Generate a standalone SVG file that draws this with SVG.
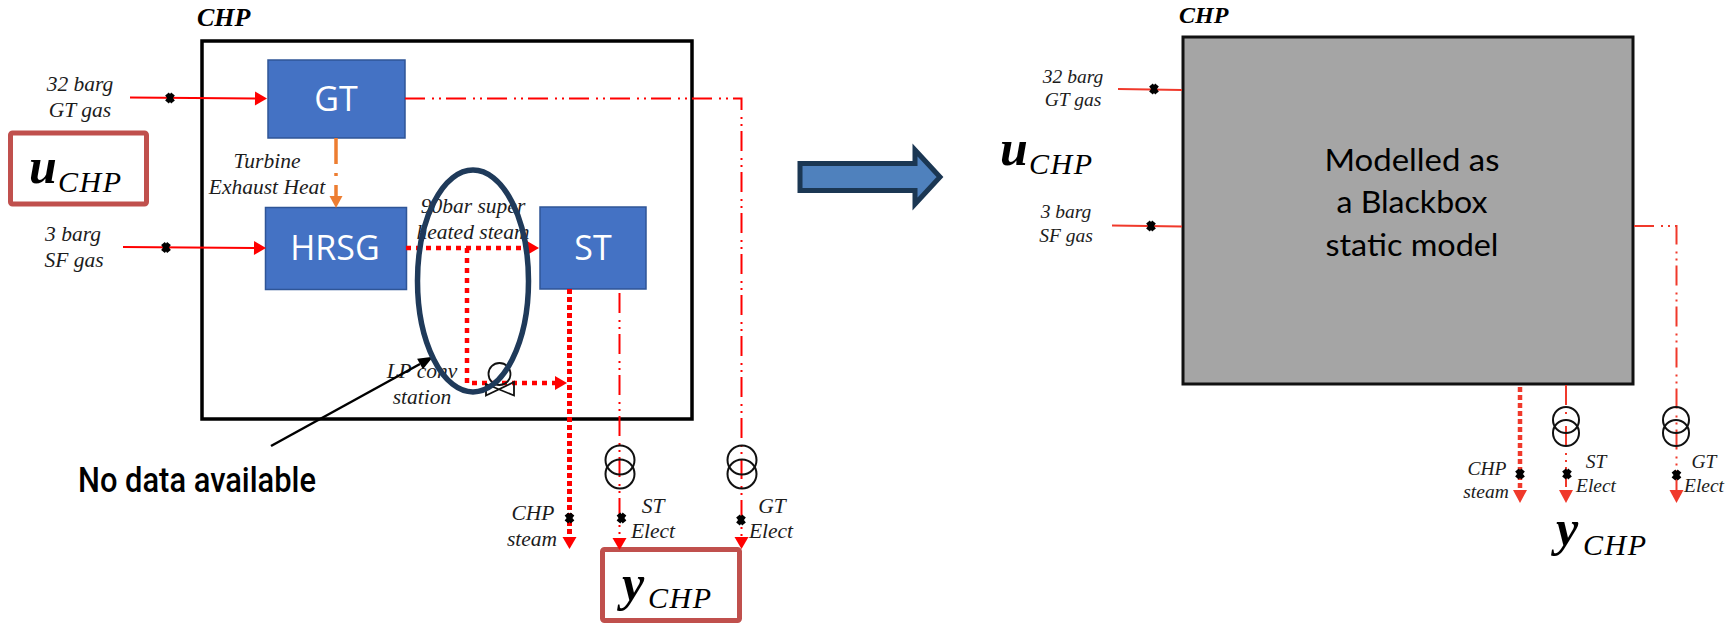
<svg xmlns="http://www.w3.org/2000/svg" xmlns:xlink="http://www.w3.org/1999/xlink" width="1733" height="625" viewBox="0 0 1733 625">
<style>
.lbl{font-family:"Liberation Serif",serif;font-style:italic;font-size:21.5px;fill:#1c1c1c;text-anchor:middle}
.lblr{font-family:"Liberation Serif",serif;font-style:italic;font-size:19.5px;fill:#1c1c1c;text-anchor:middle}
.head{font-family:"Liberation Serif",serif;font-style:italic;font-weight:bold;fill:#000}
.mv{font-family:"Liberation Serif",serif;font-style:italic;font-weight:bold;font-size:50px;fill:#000}
.ms{font-family:"Liberation Serif",serif;font-style:italic;font-size:30px;letter-spacing:1.5px;fill:#000}
.box{font-family:"Open Sans",sans-serif;font-size:34px;fill:#fff;text-anchor:middle}
.blue{fill:#4472c4;stroke:#2f5597;stroke-width:1.5}
.red{fill:none;stroke:#ff0000;stroke-width:2}
.redr{fill:none;stroke:#f0392b;stroke-width:2}
.dd{stroke-dasharray:20 7 2 5 2 5}
.dot{fill:none;stroke:#ff0000;stroke-width:4.5;stroke-dasharray:5 5}
.dotv{fill:none;stroke:#ff0000;stroke-width:5;stroke-dasharray:5 3}
.dotr{fill:none;stroke:#f0392b;stroke-width:4.5;stroke-dasharray:5 3}
.coil{fill:none;stroke:#111;stroke-width:2}
.ub{fill:#fff;stroke:#c0504d;stroke-width:5}
.xm{fill:none;stroke:#000;stroke-width:4.6}
</style>
<defs>
<marker id="aR" markerUnits="userSpaceOnUse" markerWidth="14" markerHeight="16" refX="0" refY="7" orient="auto" overflow="visible"><path d="M0 0L12 7L0 14Z" fill="#ff0000"/></marker>
<marker id="aRr" markerUnits="userSpaceOnUse" markerWidth="14" markerHeight="16" refX="0" refY="7" orient="auto" overflow="visible"><path d="M0 0L13 7L0 14Z" fill="#f0392b"/></marker>
<marker id="aO" markerUnits="userSpaceOnUse" markerWidth="14" markerHeight="16" refX="0" refY="6.5" orient="auto" overflow="visible"><path d="M0 0L12 6.5L0 13Z" fill="#ed7d31"/></marker>
<marker id="aK" markerUnits="userSpaceOnUse" markerWidth="18" markerHeight="16" refX="0" refY="6" orient="auto" overflow="visible"><path d="M0 0L15 6L0 12Z" fill="#000"/></marker>
<g id="xmark"><path class="xm" d="M-3-4L3 4M3-4L-3 4"/></g>
</defs>
<rect width="1733" height="625" fill="#fff"/>

<g id="chp-left">
<rect x="202" y="41" width="490" height="378" fill="#fff" stroke="#000" stroke-width="3.5"/>
<text class="head" x="197" y="26" font-size="26">CHP</text>
</g>
<g id="node-gt"><rect class="blue" x="268" y="60" width="137" height="78"/><text class="box" x="336" y="111">GT</text></g>
<g id="node-hrsg"><rect class="blue" x="265.500" y="207.500" width="141" height="82"/><text class="box" x="335" y="260">HRSG</text></g>
<g id="node-st"><rect class="blue" x="540" y="207" width="106" height="82"/><text class="box" x="593" y="260">ST</text></g>

<g id="labels-left">
<text class="lbl" x="80" y="91">32 barg</text><text class="lbl" x="80" y="117">GT gas</text>
<text class="lbl" x="73" y="241">3 barg</text><text class="lbl" x="74" y="267">SF gas</text>
<text class="lbl" x="267" y="168">Turbine</text><text class="lbl" x="267" y="194">Exhaust Heat</text>
<text class="lbl" x="473" y="213">90bar super</text><text class="lbl" x="473" y="239">heated steam</text>
<text class="lbl" x="422" y="378">LP conv</text><text class="lbl" x="422" y="404">station</text>
<text class="lbl" x="533" y="520">CHP</text><text class="lbl" x="532" y="546">steam</text>
<text class="lbl" x="653" y="513">ST</text><text class="lbl" x="653" y="538">Elect</text>
<text class="lbl" x="772" y="513">GT</text><text class="lbl" x="771" y="538">Elect</text>
</g>

<g id="node-ubox"><rect class="ub" x="10.500" y="133" width="136" height="71" rx="2"/>
<text class="mv" x="29" y="183">u</text><text class="ms" x="58" y="192">CHP</text></g>
<g id="node-ybox"><rect class="ub" x="602.500" y="549.500" width="137" height="71" rx="2"/>
<text class="mv" x="622" y="600">y</text><text class="ms" x="648" y="608">CHP</text></g>

<g id="connectors-left">
<path class="red" d="M130 97.500L255 98.500" marker-end="url(#aR)"/>
<path class="red" d="M123 247L254 248" marker-end="url(#aR)"/>
<path d="M336 138V196" fill="none" stroke="#ed7d31" stroke-width="3.500" stroke-dasharray="26 9 3 9 12" marker-end="url(#aO)"/>
<path class="dot" d="M406 248H527" marker-end="url(#aR)"/>
<path class="dot" d="M467 248V383H555" marker-end="url(#aR)"/>
<path class="dotv" d="M569.500 289V537" marker-end="url(#aR)"/>
<path class="red dd" d="M405 98.500H741.500V537" marker-end="url(#aR)"/>
<path class="red dd" d="M619.500 293V538" marker-end="url(#aR)"/>
<path d="M271 446L420 364" fill="none" stroke="#000" stroke-width="2.500" marker-end="url(#aK)"/>
<use xlink:href="#xmark" href="#xmark" x="170" y="98"/>
<use xlink:href="#xmark" href="#xmark" x="166" y="247.500"/>
<use xlink:href="#xmark" href="#xmark" x="569.500" y="518"/>
<use xlink:href="#xmark" href="#xmark" x="621.500" y="518"/>
<use xlink:href="#xmark" href="#xmark" x="741" y="520"/>
</g>

<g id="node-valve" fill="none" stroke="#111" stroke-width="1.800">
<circle cx="499.500" cy="374" r="11"/>
<path d="M486 395.500L514 382V395.500L486 384Z"/>
</g>
<g id="node-ellipse"><ellipse cx="473" cy="281" rx="55.500" ry="111" fill="none" stroke="#1f3a5a" stroke-width="5.500"/></g>
<g id="node-tr-st"><circle class="coil" cx="620" cy="460" r="14.500"/><circle class="coil" cx="620" cy="474" r="14.500"/></g>
<g id="node-tr-gt"><circle class="coil" cx="742" cy="460" r="14.500"/><circle class="coil" cx="742" cy="474" r="14.500"/></g>

<g id="note"><text x="78" y="492" font-family="Roboto,sans-serif" font-weight="500" font-size="35" fill="#000" textLength="238" lengthAdjust="spacingAndGlyphs">No data available</text></g>

<g id="node-bigarrow"><path d="M800 163.500H915V150L940 177L915 204V190.500H800Z" fill="#4f81bd" stroke="#1b3753" stroke-width="5"/></g>

<g id="chp-right">
<rect x="1183" y="37" width="450" height="347" fill="#a5a5a5" stroke="#111" stroke-width="3"/>
<text class="head" x="1179" y="23" font-size="24">CHP</text>
<g font-family="Lato,sans-serif" font-size="31" fill="#000" text-anchor="middle">
<text x="1412" y="171" textLength="175" lengthAdjust="spacingAndGlyphs">Modelled as</text>
<text x="1412" y="213" textLength="151" lengthAdjust="spacingAndGlyphs">a Blackbox</text>
<text x="1412" y="256" textLength="173" lengthAdjust="spacingAndGlyphs">static model</text>
</g>
</g>

<g id="labels-right">
<text class="lblr" x="1073" y="83">32 barg</text><text class="lblr" x="1073" y="106">GT gas</text>
<text class="lblr" x="1066" y="218">3 barg</text><text class="lblr" x="1066" y="242">SF gas</text>
<text class="lblr" x="1487" y="475">CHP</text><text class="lblr" x="1486" y="498">steam</text>
<text class="lblr" x="1596" y="468">ST</text><text class="lblr" x="1596" y="492">Elect</text>
<text class="lblr" x="1704" y="468">GT</text><text class="lblr" x="1704" y="492">Elect</text>
<g id="u-right"><text class="mv" x="1000" y="165">u</text><text class="ms" x="1029" y="174">CHP</text></g>
<g id="y-right"><text class="mv" x="1556" y="545">y</text><text class="ms" x="1583" y="555">CHP</text></g>
</g>

<g id="connectors-right">
<path class="redr" d="M1118 89L1182 90"/>
<path class="redr" d="M1112 225.500L1182 226.500"/>
<path class="redr dd" d="M1634 226H1676.500V490" marker-end="url(#aRr)"/>
<path class="dotr" d="M1520 387V490" marker-end="url(#aRr)"/>
<path class="redr dd" d="M1566 385V490" marker-end="url(#aRr)"/>
<use xlink:href="#xmark" href="#xmark" x="1154" y="89"/>
<use xlink:href="#xmark" href="#xmark" x="1151" y="226"/>
<use xlink:href="#xmark" href="#xmark" x="1520" y="474"/>
<use xlink:href="#xmark" href="#xmark" x="1567" y="474"/>
<use xlink:href="#xmark" href="#xmark" x="1676.500" y="475"/>
</g>
<g id="node-tr-st-r"><circle class="coil" cx="1566" cy="420" r="13"/><circle class="coil" cx="1566" cy="433" r="13"/></g>
<g id="node-tr-gt-r"><circle class="coil" cx="1676" cy="420" r="13"/><circle class="coil" cx="1676" cy="433" r="13"/></g>
</svg>
